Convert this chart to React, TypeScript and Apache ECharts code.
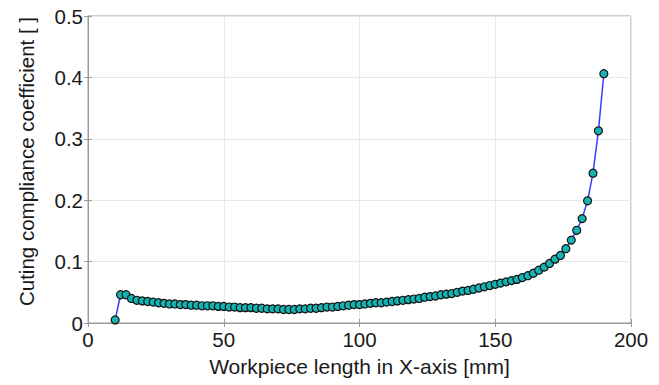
import React, { useEffect, useRef } from "react";
import * as echarts from "echarts";

const xValues = [
  10, 12, 14, 16, 18, 20, 22, 24, 26, 28, 30, 32, 34, 36, 38, 40, 42, 44, 46, 48,
  50, 52, 54, 56, 58, 60, 62, 64, 66, 68, 70, 72, 74, 76, 78, 80, 82, 84, 86, 88,
  90, 92, 94, 96, 98, 100, 102, 104, 106, 108, 110, 112, 114, 116, 118, 120, 122, 124, 126, 128,
  130, 132, 134, 136, 138, 140, 142, 144, 146, 148, 150, 152, 154, 156, 158, 160, 162, 164, 166, 168,
  170, 172, 174, 176, 178, 180, 182, 184, 186, 188, 190,
];

const yValues = [
  0.005, 0.046, 0.046, 0.040, 0.037, 0.036, 0.035, 0.034, 0.033, 0.032,
  0.031, 0.031, 0.030, 0.030, 0.029, 0.029, 0.028, 0.028, 0.028, 0.027,
  0.027, 0.026, 0.026, 0.025, 0.025, 0.025, 0.024, 0.024, 0.023, 0.023,
  0.023, 0.022, 0.022, 0.022, 0.023, 0.023, 0.024, 0.024, 0.025, 0.026,
  0.026, 0.027, 0.028, 0.029, 0.030, 0.030, 0.031, 0.032, 0.033, 0.033,
  0.034, 0.035, 0.036, 0.037, 0.038, 0.039, 0.040, 0.042, 0.043, 0.044,
  0.046, 0.047, 0.048, 0.050, 0.052, 0.053, 0.055, 0.057, 0.059, 0.061,
  0.063, 0.065, 0.067, 0.069, 0.071, 0.074, 0.077, 0.081, 0.086, 0.091,
  0.097, 0.104, 0.110, 0.121, 0.135, 0.151, 0.170, 0.199, 0.244, 0.313,
  0.406,
];

const xTicks = { min: 0, max: 200, interval: 50 };
const yTicks = { min: 0, max: 0.5, interval: 0.1 };

const xTitle = "Workpiece length in X-axis [mm]";
const yTitle = "Cuting compliance coefficient [ ]";

export default function App() {
  const ref = useRef<HTMLDivElement>(null);

  useEffect(() => {
    document.body.style.margin = "0";
    if (!ref.current) return;
    const chart = echarts.init(ref.current, null, { renderer: "svg" });
    const font = "Liberation Sans, Arial, sans-serif";
    const axisColor = "#9a9a9a";
    const gridColor = "#e8e8e8";
    const textColor = "#1a1a1a";
    const data = xValues.map((x, i) => [x, yValues[i]]);

    chart.setOption({
      animation: false,
      backgroundColor: "#ffffff",
      grid: {
        left: 88,
        top: 16,
        width: 543,
        height: 307,
        show: true,
        borderColor: axisColor,
        borderWidth: 1,
        backgroundColor: "transparent",
      },
      xAxis: [
        {
          type: "value",
          ...xTicks,
          name: xTitle,
          nameLocation: "middle",
          nameGap: 33,
          nameTextStyle: { fontFamily: font, fontSize: 21, color: textColor },
          axisLine: { show: true, lineStyle: { color: axisColor, width: 1 } },
          axisTick: { show: true, inside: true, length: 4, lineStyle: { color: axisColor } },
          axisLabel: { fontFamily: font, fontSize: 20.5, color: textColor, margin: 6 },
          splitLine: { show: true, lineStyle: { color: gridColor, width: 1 } },
        },
        {
          type: "value",
          ...xTicks,
          position: "top",
          axisLine: { show: true, lineStyle: { color: axisColor, width: 1 } },
          axisTick: { show: true, inside: true, length: 4, lineStyle: { color: axisColor } },
          axisLabel: { show: false },
          splitLine: { show: false },
        },
      ],
      yAxis: [
        {
          type: "value",
          ...yTicks,
          name: yTitle,
          nameLocation: "middle",
          nameGap: 51,
          nameTextStyle: {
            fontFamily: font,
            fontSize: 20.5,
            color: textColor,
            padding: [0, 0, 0, 16],
          },
          axisLine: { show: true, lineStyle: { color: axisColor, width: 1 } },
          axisTick: { show: true, inside: true, length: 4, lineStyle: { color: axisColor } },
          axisLabel: { fontFamily: font, fontSize: 20.5, color: textColor, margin: 5 },
          splitLine: { show: true, lineStyle: { color: gridColor, width: 1 } },
        },
        {
          type: "value",
          ...yTicks,
          position: "right",
          axisLine: { show: true, lineStyle: { color: axisColor, width: 1 } },
          axisTick: { show: true, inside: true, length: 4, lineStyle: { color: axisColor } },
          axisLabel: { show: false },
          splitLine: { show: false },
        },
      ],
      series: [
        {
          type: "line",
          data,
          symbol: "circle",
          symbolSize: 8,
          showAllSymbol: true,
          lineStyle: { color: "#3a3aff", width: 1.5 },
          itemStyle: { color: "#17b2b2", borderColor: "#111111", borderWidth: 1.2 },
          z: 3,
        },
      ],
    });

    return () => chart.dispose();
  }, []);

  return <div ref={ref} style={{ width: 659, height: 385 }} />;
}
